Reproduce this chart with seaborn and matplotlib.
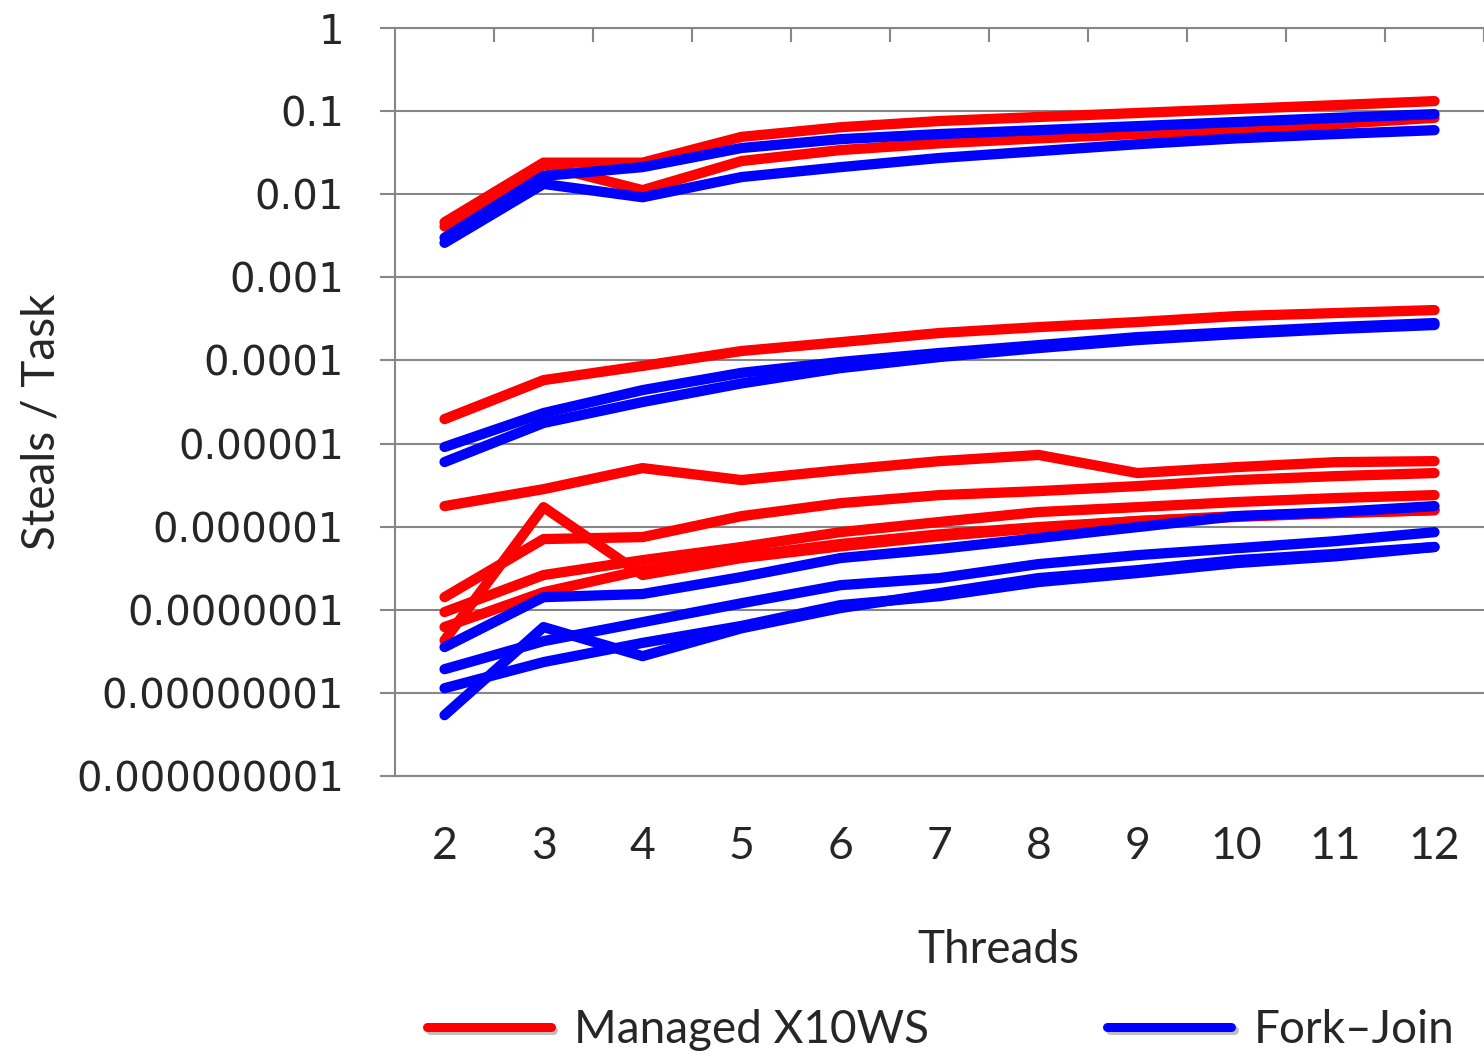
import pandas as pd
import matplotlib.pyplot as plt
import seaborn as sns
from matplotlib.lines import Line2D
from matplotlib import patheffects as pe

# Data
threads = [2, 3, 4, 5, 6, 7, 8, 9, 10, 11, 12]

x10ws_1 = [0.0046, 0.024, 0.024, 0.049, 0.064, 0.076, 0.085, 0.095, 0.106, 0.118, 0.132]
x10ws_2 = [0.0041, 0.0225, 0.0112, 0.0251, 0.034, 0.041, 0.047, 0.053, 0.061, 0.070, 0.083]
x10ws_3 = [1.97e-5, 5.8e-5, 8.6e-5, 1.30e-4, 1.66e-4, 2.14e-4, 2.52e-4, 2.90e-4, 3.42e-4, 3.72e-4, 4.04e-4]
x10ws_4 = [1.77e-6, 2.83e-6, 5.07e-6, 3.64e-6, 4.80e-6, 6.15e-6, 7.3e-6, 4.42e-6, 5.21e-6, 5.98e-6, 6.15e-6]
x10ws_5 = [1.42e-7, 7.1e-7, 7.5e-7, 1.34e-6, 1.92e-6, 2.40e-6, 2.68e-6, 3.08e-6, 3.64e-6, 4.06e-6, 4.42e-6]
x10ws_6 = [9.4e-8, 2.62e-7, 3.96e-7, 5.7e-7, 8.6e-7, 1.14e-6, 1.50e-6, 1.72e-6, 1.98e-6, 2.21e-6, 2.40e-6]
x10ws_7 = [6.2e-8, 1.63e-7, 3.0e-7, 4.4e-7, 6.2e-7, 8.1e-7, 9.9e-7, 1.17e-6, 1.34e-6, 1.46e-6, 1.58e-6]
x10ws_8 = [4.3e-8, 1.72e-6, 2.62e-7, 4.2e-7, 5.8e-7, 7.7e-7, 9.6e-7, 1.17e-6, 1.31e-6, 1.46e-6, 1.58e-6]

fj_1 = [0.0030, 0.0166, 0.0212, 0.036, 0.046, 0.053, 0.059, 0.066, 0.074, 0.083, 0.092]
fj_2 = [0.0026, 0.0133, 0.0092, 0.0161, 0.0212, 0.0273, 0.033, 0.040, 0.047, 0.053, 0.059]
fj_3 = [9.1e-6, 2.33e-5, 4.4e-5, 7.1e-5, 9.6e-5, 1.23e-4, 1.53e-4, 1.91e-4, 2.20e-4, 2.52e-4, 2.82e-4]
fj_4 = [6.0e-6, 1.77e-5, 3.16e-5, 5.3e-5, 8.1e-5, 1.10e-4, 1.41e-4, 1.76e-4, 2.08e-4, 2.39e-4, 2.67e-4]
fj_5 = [3.56e-8, 1.42e-7, 1.55e-7, 2.48e-7, 4.2e-7, 5.4e-7, 7.3e-7, 9.9e-7, 1.34e-6, 1.50e-6, 1.77e-6]
fj_6 = [1.93e-8, 4.2e-8, 7.1e-8, 1.20e-7, 1.98e-7, 2.41e-7, 3.55e-7, 4.55e-7, 5.5e-7, 6.7e-7, 8.6e-7]
fj_7 = [1.14e-8, 2.35e-8, 4.0e-8, 6.4e-8, 1.14e-7, 1.46e-7, 2.16e-7, 2.77e-7, 3.65e-7, 4.4e-7, 5.7e-7]
fj_8 = [5.4e-9, 6.2e-8, 2.77e-8, 6.0e-8, 1.05e-7, 1.59e-7, 2.41e-7, 3.0e-7, 3.96e-7, 4.7e-7, 5.7e-7]

systems = ["Managed X10WS", "Fork\u2013Join"]
colors = {"Managed X10WS": "#ff0000", "Fork\u2013Join": "#0000ff"}

y_ticks = [1e-9, 1e-8, 1e-7, 1e-6, 1e-5, 1e-4, 1e-3, 1e-2, 1e-1, 1]
y_labels = ["0.000000001", "0.00000001", "0.0000001", "0.000001", "0.00001",
            "0.0001", "0.001", "0.01", "0.1", "1"]

# long-form table for seaborn
series = {
    "Managed X10WS": [x10ws_1, x10ws_2, x10ws_3, x10ws_4, x10ws_5, x10ws_6, x10ws_7, x10ws_8],
    "Fork\u2013Join": [fj_1, fj_2, fj_3, fj_4, fj_5, fj_6, fj_7, fj_8],
}
rows = []
for system, lists in series.items():
    for i, vals in enumerate(lists):
        for t, v in zip(threads, vals):
            rows.append({"threads": t, "value": v, "system": system, "series": f"{system}-{i}"})
df = pd.DataFrame(rows)

sns.set_style("white")
grey = "#868686"

fig = plt.figure(figsize=(14.84, 10.57), dpi=100)
ax = fig.add_axes([0.2662, 0.2658, 0.7338, 0.7077])

sns.lineplot(data=df, x="threads", y="value", hue="system", hue_order=systems,
             units="series", estimator=None, palette=colors, linewidth=7.4,
             solid_capstyle="round", legend=False, ax=ax)

ax.set_yscale("log")
ax.set_ylim(1e-9, 1)
ax.set_xlim(1.5, 12.5)
ax.set_yticks(y_ticks)
ax.set_yticklabels(y_labels, fontfamily="DejaVu Sans", fontsize=29)
ax.yaxis.set_minor_locator(plt.NullLocator())
ax.set_xticks(threads)
ax.set_xticklabels([str(t) for t in threads], fontfamily="Lato", fontsize=32)
ax.set_xticks([t + 0.5 for t in threads], minor=True)

ax.tick_params(axis="y", which="major", direction="out", length=10.8, width=1.5,
               color=grey, pad=26, left=True)
ax.tick_params(axis="x", which="major", length=0, pad=36)
ax.tick_params(axis="x", which="minor", top=True, bottom=False, direction="in",
               length=10, width=1.5, color=grey)

ax.grid(axis="y", color=grey, linewidth=1.5)
ax.grid(axis="x", visible=False)
for side in ["left", "top", "bottom"]:
    ax.spines[side].set_color(grey)
    ax.spines[side].set_linewidth(1.5)
ax.spines["right"].set_visible(False)

ax.set_xlabel("Threads", fontfamily="Lato", fontsize=33)
ax.xaxis.label.set_va("center")
ax.xaxis.set_label_coords(0.5537, -0.2326)
ax.set_ylabel("Steals / Task", fontfamily="Lato", fontsize=33)
ax.yaxis.label.set_va("center")
ax.yaxis.set_label_coords(-0.3245, 0.473)

shadow = [pe.SimpleLineShadow(offset=(2, -2), shadow_color="grey", alpha=0.5), pe.Normal()]
handles = [Line2D([], [], color=colors[s], linewidth=6.5, path_effects=shadow) for s in systems]
fig.legend(handles, systems, loc="center", bbox_to_anchor=(0.634, 0.0255), ncol=2,
           frameon=False, prop={"family": "Lato", "size": 33}, handlelength=2.7,
           handletextpad=0.5, columnspacing=3.9)

fig.savefig("out.png", dpi=100)
